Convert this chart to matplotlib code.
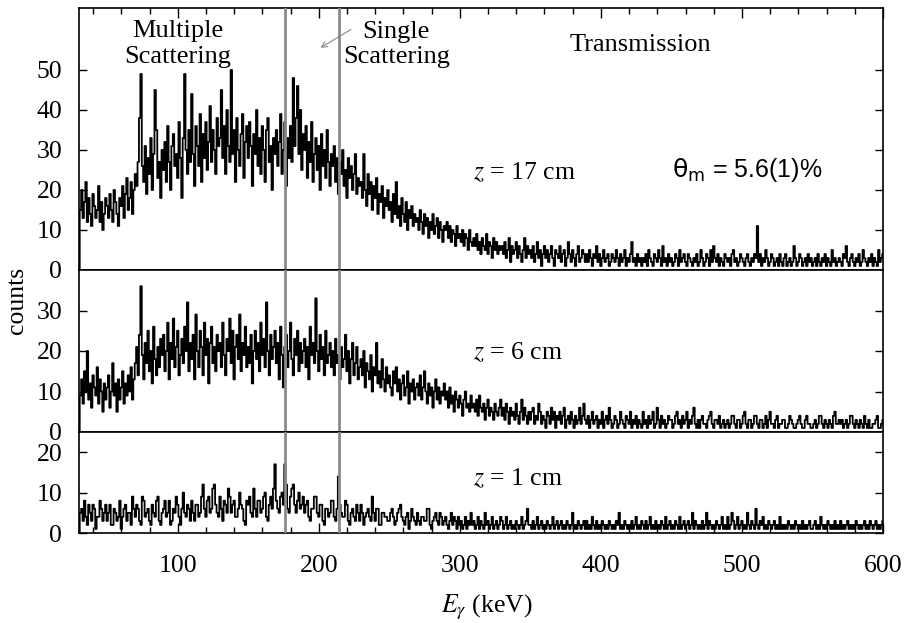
import numpy as np
import matplotlib
matplotlib.use('Agg')
import matplotlib.pyplot as plt
from matplotlib.ticker import MultipleLocator

plt.rcParams['font.family'] = ['Liberation Serif', 'DejaVu Serif']
plt.rcParams['mathtext.fontset'] = 'stix'

# 1 keV channels, 30 ... 600 keV (20 channels per row)
# z = 17 cm
counts_17 = [
    0, 15, 20, 13, 17, 22, 12, 18, 14, 11, 19, 16, 13, 15, 21, 12, 17, 10, 14, 18,
    16, 13, 19, 15, 12, 20, 17, 14, 11, 18, 16, 21, 13, 19, 23, 15, 18, 22, 14, 20,
    24, 21, 27, 38, 49, 26, 22, 31, 19, 28, 24, 33, 20, 29, 45, 35, 23, 27, 18, 30,
    25, 32, 22, 36, 27, 20, 31, 34, 26, 29, 23, 37, 28, 18, 33, 49, 30, 24, 35, 27,
    44, 29, 21, 36, 31, 26, 39, 22, 34, 28, 37, 25, 32, 41, 27, 35, 30, 24, 38, 31,
    33, 45, 28, 36, 24, 40, 31, 27, 50, 29, 35, 22, 38, 30, 26, 34, 39, 23, 32, 36,
    28, 37, 31, 21, 34, 29, 40, 26, 33, 24, 36, 30, 22, 35, 38, 27, 31, 20, 33, 29,
    35, 26, 32, 39, 24, 30, 37, 21, 33, 28, 36, 27, 48, 31, 38, 46, 29, 40, 25, 34,
    30, 36, 23, 32, 27, 37, 22, 29, 33, 25, 31, 20, 34, 26, 30, 23, 35, 27, 21, 29,
    26, 31, 22, 28, 19, 27, 24, 30, 21, 25, 18, 28, 23, 26, 20, 24, 29, 19, 23, 21,
    22, 18, 29, 20, 16, 24, 19, 22, 15, 21, 18, 23, 14, 19, 17, 21, 13, 18, 16, 20,
    15, 17, 12, 19, 14, 22, 13, 16, 11, 18, 14, 12, 17, 10, 15, 13, 16, 11, 14, 12,
    13, 10, 15, 12, 9, 14, 11, 13, 8, 12, 10, 14, 9, 11, 13, 8, 12, 10, 7, 11,
    10, 12, 8, 11, 7, 10, 9, 6, 11, 8, 9, 7, 10, 6, 9, 8, 5, 10, 7, 6,
    8, 6, 9, 5, 7, 4, 8, 6, 5, 9, 4, 7, 6, 3, 8, 5, 7, 4, 6, 5,
    6, 4, 7, 3, 5, 8, 2, 6, 4, 5, 7, 3, 6, 4, 2, 5, 8, 3, 6, 4,
    5, 3, 6, 2, 4, 7, 3, 5, 1, 4, 6, 3, 5, 2, 4, 6, 3, 1, 5, 4,
    3, 6, 2, 4, 5, 1, 3, 7, 4, 2, 5, 3, 1, 4, 6, 2, 3, 5, 4, 2,
    4, 2, 5, 3, 1, 4, 3, 6, 2, 4, 1, 3, 5, 2, 3, 4, 1, 2, 4, 3,
    2, 5, 3, 1, 4, 2, 3, 5, 1, 3, 2, 4, 7, 2, 3, 1, 4, 2, 3, 1,
    3, 2, 4, 1, 5, 3, 2, 1, 4, 3, 2, 5, 3, 1, 6, 2, 3, 1, 4, 2,
    3, 1, 2, 4, 3, 1, 5, 2, 3, 4, 2, 1, 4, 3, 2, 1, 3, 2, 4, 1,
    2, 5, 3, 1, 2, 4, 3, 1, 5, 2, 6, 3, 2, 4, 1, 3, 2, 1, 4, 3,
    2, 3, 1, 4, 5, 2, 3, 1, 2, 4, 3, 2, 1, 3, 4, 2, 1, 3, 2, 4,
    3, 11, 2, 4, 1, 3, 2, 5, 3, 1, 2, 4, 3, 1, 2, 3, 1, 4, 2, 1,
    3, 4, 1, 2, 3, 1, 2, 6, 3, 1, 2, 4, 3, 1, 2, 3, 1, 4, 2, 3,
    1, 2, 3, 1, 4, 2, 1, 3, 2, 4, 1, 3, 2, 1, 5, 2, 3, 1, 2, 3,
    2, 1, 4, 3, 6, 2, 1, 3, 4, 2, 1, 3, 2, 4, 1, 2, 5, 3, 2, 1,
    3, 2, 4, 1, 3, 2, 1, 5, 2, 3, 4,
]

# z = 6 cm
counts_6 = [
    0, 9, 13, 7, 15, 10, 20, 8, 12, 6, 14, 11, 9, 16, 7, 13, 10, 5, 12, 8,
    11, 14, 6, 10, 17, 9, 12, 5, 13, 8, 11, 15, 7, 12, 9, 14, 10, 16, 8, 13,
    17, 21, 14, 24, 36, 19, 13, 22, 17, 25, 15, 20, 12, 26, 18, 14, 21, 16, 23, 19,
    24, 15, 20, 27, 13, 22, 18, 28, 16, 21, 25, 14, 19, 23, 17, 26, 20, 32, 15, 22,
    18, 24, 13, 29, 20, 16, 25, 21, 14, 27, 19, 23, 12, 22, 26, 17, 21, 15, 24, 20,
    22, 16, 27, 19, 14, 23, 20, 28, 17, 25, 13, 21, 24, 18, 29, 15, 22, 19, 26, 16,
    21, 17, 24, 12, 20, 25, 18, 22, 15, 27, 19, 23, 16, 32, 20, 14, 24, 18, 21, 25,
    17, 22, 13, 26, 19, 11, 21, 24, 16, 20, 27, 18, 14, 23, 19, 25, 15, 22, 17, 20,
    23, 16, 21, 13, 26, 19, 22, 17, 33, 20, 15, 24, 18, 21, 14, 25, 17, 19, 22, 16,
    20, 14, 23, 17, 19, 13, 21, 16, 18, 24, 15, 20, 12, 18, 22, 14, 17, 21, 13, 16,
    18, 14, 20, 11, 17, 15, 13, 19, 10, 16, 14, 22, 12, 15, 11, 18, 13, 10, 16, 12,
    14, 11, 9, 15, 12, 16, 10, 13, 8, 12, 14, 9, 11, 15, 7, 12, 10, 13, 8, 11,
    12, 9, 14, 8, 11, 15, 10, 7, 12, 9, 11, 6, 10, 13, 8, 11, 7, 10, 9, 12,
    8, 10, 6, 11, 7, 9, 5, 10, 8, 6, 9, 7, 4, 8, 10, 6, 7, 5, 9, 6,
    7, 5, 8, 4, 9, 6, 5, 7, 3, 6, 8, 4, 6, 5, 3, 7, 5, 4, 6, 8,
    4, 6, 3, 7, 5, 2, 6, 4, 5, 3, 7, 4, 2, 5, 8, 3, 6, 4, 2, 5,
    3, 5, 6, 2, 4, 3, 7, 5, 2, 4, 3, 1, 5, 4, 2, 6, 3, 5, 1, 4,
    3, 5, 2, 4, 6, 1, 3, 4, 2, 5, 3, 1, 4, 2, 3, 6, 2, 4, 7, 3,
    2, 4, 1, 3, 5, 2, 3, 4, 1, 3, 2, 5, 1, 3, 4, 2, 6, 3, 1, 2,
    4, 3, 1, 2, 5, 3, 2, 1, 4, 3, 2, 5, 1, 3, 2, 4, 1, 3, 2, 1,
    5, 2, 3, 1, 4, 2, 3, 5, 1, 2, 6, 3, 1, 4, 2, 3, 1, 2, 4, 3,
    3, 1, 2, 4, 5, 2, 3, 1, 4, 2, 3, 5, 1, 3, 2, 4, 6, 2, 1, 3,
    1, 3, 4, 2, 2, 1, 3, 4, 5, 2, 1, 3, 3, 2, 4, 1, 2, 3, 1, 2,
    3, 1, 2, 4, 4, 2, 1, 3, 3, 1, 2, 4, 5, 2, 1, 3, 3, 1, 2, 4,
    4, 2, 1, 3, 3, 1, 2, 4, 1, 3, 5, 2, 2, 1, 3, 4, 1, 2, 2, 3,
    3, 1, 1, 2, 4, 3, 2, 1, 1, 2, 3, 4, 2, 1, 1, 3, 4, 2, 2, 1,
    1, 2, 3, 1, 2, 4, 4, 2, 1, 3, 2, 1, 3, 2, 1, 4, 5, 2, 2, 3,
    2, 3, 1, 2, 3, 1, 2, 4, 4, 2, 1, 3, 2, 1, 3, 2, 1, 4, 2, 1,
    3, 1, 1, 2, 2, 3, 4, 1, 1, 2, 3,
]

# z = 1 cm
counts_1 = [
    0, 5, 6, 3, 8, 4, 2, 7, 5, 3, 7, 6, 1, 4, 4, 8, 6, 3, 5, 7,
    3, 5, 7, 2, 2, 6, 5, 3, 4, 8, 1, 4, 6, 7, 3, 5, 5, 2, 9, 6,
    4, 7, 6, 3, 2, 9, 8, 4, 5, 6, 3, 2, 7, 5, 4, 8, 9, 3, 2, 5,
    6, 8, 4, 5, 8, 2, 3, 6, 5, 9, 7, 4, 2, 6, 10, 5, 4, 7, 6, 3,
    8, 5, 3, 7, 7, 4, 5, 9, 12, 6, 4, 8, 9, 5, 6, 11, 12, 7, 5, 4,
    9, 6, 3, 8, 7, 5, 11, 9, 5, 7, 8, 4, 4, 6, 10, 7, 6, 3, 2, 8,
    7, 9, 5, 4, 11, 6, 4, 8, 8, 5, 6, 9, 10, 4, 3, 7, 9, 6, 11, 17,
    8, 6, 5, 9, 10, 7, 17, 12, 6, 5, 9, 11, 12, 7, 5, 8, 10, 6, 7, 9,
    5, 7, 8, 4, 3, 6, 6, 9, 9, 5, 4, 7, 7, 3, 2, 6, 6, 4, 5, 8,
    8, 4, 3, 6, 14, 7, 5, 4, 4, 8, 7, 3, 2, 5, 6, 4, 3, 7, 5, 3,
    7, 5, 2, 4, 5, 6, 4, 3, 9, 5, 3, 6, 6, 2, 2, 5, 5, 4, 4, 3,
    3, 5, 6, 4, 2, 3, 5, 6, 7, 4, 3, 2, 4, 5, 1, 3, 6, 4, 3, 2,
    5, 3, 2, 4, 4, 3, 3, 6, 6, 2, 1, 3, 4, 5, 3, 2, 5, 4, 2, 3,
    4, 2, 1, 3, 5, 2, 4, 3, 1, 4, 2, 3, 1, 2, 4, 1, 3, 2, 5, 2,
    3, 1, 2, 4, 1, 3, 2, 1, 5, 2, 3, 1, 2, 4, 1, 2, 3, 1, 2, 4,
    3, 1, 2, 4, 1, 2, 3, 1, 2, 1, 3, 2, 1, 2, 4, 1, 2, 3, 6, 2,
    2, 1, 3, 1, 2, 4, 1, 2, 3, 1, 2, 1, 3, 2, 1, 2, 4, 1, 2, 3,
    1, 2, 3, 1, 2, 1, 3, 2, 1, 2, 5, 1, 2, 1, 3, 2, 1, 2, 3, 1,
    3, 1, 2, 1, 4, 2, 1, 3, 1, 2, 1, 3, 2, 1, 2, 1, 3, 2, 1, 2,
    1, 3, 2, 5, 1, 2, 1, 3, 2, 1, 2, 1, 3, 1, 2, 4, 1, 2, 1, 3,
    2, 1, 3, 1, 2, 4, 1, 2, 1, 3, 1, 2, 1, 3, 2, 1, 4, 1, 2, 3,
    1, 2, 1, 3, 2, 1, 4, 1, 2, 3, 1, 2, 3, 1, 2, 5, 1, 3, 2, 1,
    2, 1, 3, 1, 2, 5, 1, 3, 2, 1, 2, 1, 3, 2, 1, 2, 4, 1, 2, 1,
    4, 1, 2, 5, 3, 1, 2, 4, 1, 2, 3, 1, 2, 1, 5, 2, 1, 3, 2, 1,
    6, 2, 1, 3, 2, 4, 1, 2, 1, 3, 2, 1, 2, 3, 1, 2, 1, 4, 1, 2,
    1, 2, 1, 3, 2, 1, 2, 1, 3, 2, 1, 2, 1, 3, 1, 2, 1, 2, 3, 1,
    1, 2, 3, 1, 2, 1, 4, 2, 1, 2, 1, 3, 2, 1, 2, 1, 3, 1, 2, 1,
    3, 1, 2, 1, 2, 3, 1, 2, 1, 2, 1, 3, 2, 1, 2, 1, 2, 3, 1, 2,
    1, 3, 2, 1, 2, 3, 1, 2, 1, 2, 3,
]

cut_lines = [176, 214]
panel_ylims = [65.5, 40, 25]
panel_yticks = [[0, 10, 20, 30, 40, 50], [0, 10, 20, 30], [0, 10, 20]]
panel_labels = ['$z$ = 17 cm', '$z$ = 6 cm', '$z$ = 1 cm']
label_y = [24.5, 19.75, 13.6]

fig = plt.figure(figsize=(9.09, 6.23), dpi=100)
W, H = 909, 623
left, right = 79 / W, 883 / W
edges_px = [8, 270, 432, 533]

axes = []
for i, data in enumerate([counts_17, counts_6, counts_1]):
    energy = 30 + np.arange(len(data))
    top, bot = edges_px[i], edges_px[i + 1]
    ax = fig.add_axes([left, 1 - bot / H, right - left, (bot - top) / H])
    ax.plot(energy, data, color='black', lw=1.3, drawstyle='steps-mid')
    for xc in cut_lines:
        ax.axvline(xc, color='#8a8a8a', lw=2.0, zorder=3)
    ax.set_xlim(30, 600)
    ax.set_ylim(0, panel_ylims[i])
    ax.set_yticks(panel_yticks[i])
    ax.xaxis.set_major_locator(MultipleLocator(100))
    ax.xaxis.set_minor_locator(MultipleLocator(20))
    ax.tick_params(axis='y', direction='in', left=True, right=True, length=6,
                   width=1, labelsize=18.5, pad=12)
    ax.tick_params(axis='x', which='major', direction='in', length=7, width=1,
                   top=(i == 0), bottom=(i == 2), labelbottom=(i == 2),
                   labelsize=18.5, pad=16)
    ax.tick_params(axis='x', which='minor', direction='in', length=4, width=1,
                   top=(i == 0), bottom=(i == 2))
    for sp in ax.spines.values():
        sp.set_linewidth(1.2)
    ax.text(309.5, label_y[i], panel_labels[i], fontsize=18.5, ha='left', va='center')
    axes.append(ax)

ax_top = axes[0]
ax_bot = axes[2]
ax_bot.set_xticks([100, 200, 300, 400, 500, 600])

ax_top.text(100, 56.5, 'Multiple\nScattering', fontsize=19, ha='center', va='center',
            linespacing=1.2)
ax_top.text(255, 56.3, 'Single\nScattering', fontsize=19, ha='center', va='center',
            linespacing=1.2)
ax_top.annotate('', xy=(199.5, 55.2), xytext=(224.5, 60.5),
                arrowprops=dict(arrowstyle='->', color='#888888', lw=0.8))
ax_top.text(428, 56.3, 'Transmission', fontsize=19, ha='center', va='center')
ax_top.text(504, 25, r'$\mathrm{\theta}_\mathrm{m}$ = 5.6(1)%', fontsize=18,
            ha='center', va='center', family='Liberation Sans', math_fontfamily='dejavusans')

fig.text(17 / W, 1 - 300 / H, 'counts', rotation=90, fontsize=18.5, ha='center', va='center')
fig.text(487 / W, 1 - 607 / H, r'$E_{\gamma}$ (keV)', fontsize=18.5, ha='center', va='center')

fig.savefig('out.png', dpi=100)
